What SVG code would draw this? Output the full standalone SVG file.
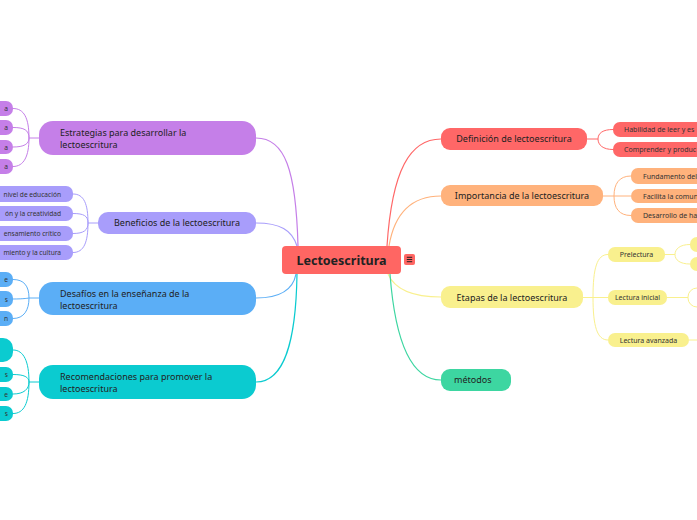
<svg xmlns="http://www.w3.org/2000/svg" width="697" height="520" viewBox="0 0 697 520">
<style>
text{font-family:"Noto Sans","Open Sans","DejaVu Sans",sans-serif;fill:#222}
.main{font-size:9px}
.leaf{font-size:6.6px;fill:#333}
.leafr{font-size:7px;fill:#333}
.c{fill:none;stroke-width:1.2}
.s{fill:none;stroke-width:1}
.red{fill:#FF6767}.peach{fill:#FFB27C}.yel{fill:#F9F08E}.grn{fill:#3DD6A1}
.pur{fill:#C57FE8}.lav{fill:#A89DFB}.blu{fill:#5BAEF6}.tea{fill:#0BCBD0}
</style>
<rect width="697" height="520" fill="#fff"/>
<g id="connectors">
  <path class="c" stroke="#C57FE8" d="M256 138 C285 138 296 170 298 246"/>
  <path class="c" stroke="#A89DFB" d="M256 223 C280 223 292 230 297 246"/>
  <path class="c" stroke="#5BAEF6" d="M256 298 C280 298 293 290 296 274"/>
  <path class="c" stroke="#0BCBD0" d="M256 382 C285 382 296 340 297 274"/>
  <path class="c" stroke="#FF6767" d="M387 246 C392 170 410 139 441 139"/>
  <path class="c" stroke="#FFB27C" d="M389 246 C395 210 415 196 441 196"/>
  <path class="c" stroke="#F9F08E" d="M388 274 C395 290 415 297 441 297"/>
  <path class="c" stroke="#3DD6A1" d="M390 274 C395 340 410 380 441 380"/>
  <g stroke="#C57FE8" class="s">
    <path d="M39 138 H29"/>
    <path d="M29 138 C29 118 24 108.5 13 108.5"/>
    <path d="M29 138 C29 130 24 127.5 13 127.5"/>
    <path d="M29 138 C29 144 24 147 13 147"/>
    <path d="M29 138 C29 156 24 166.5 13 166.5"/>
  </g>
  <g stroke="#A89DFB" class="s">
    <path d="M98 223 H88"/>
    <path d="M88 223 C88 204 84 194 73 194"/>
    <path d="M88 223 C88 216 84 213.5 73 213.5"/>
    <path d="M88 223 C88 230 84 233.5 73 233.5"/>
    <path d="M88 223 C88 242 84 252.5 73 252.5"/>
  </g>
  <g stroke="#5BAEF6" class="s">
    <path d="M39 298 H29"/>
    <path d="M29 298 C29 286 24 279.5 13 279.5"/>
    <path d="M29 298 C29 298 24 299 13 299"/>
    <path d="M29 298 C29 310 24 318.5 13 318.5"/>
  </g>
  <g stroke="#0BCBD0" class="s">
    <path d="M39 382 H29"/>
    <path d="M29 382 C29 362 24 350 13 350"/>
    <path d="M29 382 C29 377 24 374.5 13 374.5"/>
    <path d="M29 382 C29 389 24 394 13 394"/>
    <path d="M29 382 C29 403 24 413.5 13 413.5"/>
  </g>
  <g stroke="#FF6767" class="s">
    <path d="M587 139 H598"/>
    <path d="M598 139 C598 133 603 129.5 613 129.5"/>
    <path d="M598 139 C598 145 603 149.5 613 149.5"/>
  </g>
  <g stroke="#FFB27C" class="s">
    <path d="M603 196 H614"/>
    <path d="M614 196 C614 184 619 176 631 176"/>
    <path d="M614 196 H631"/>
    <path d="M614 196 C614 208 619 215.5 631 215.5"/>
  </g>
  <g stroke="#F9F08E" class="s">
    <path d="M583 297.5 H593"/>
    <path d="M593 297.5 C593 268 597 254.5 608 254.5"/>
    <path d="M593 297.5 H608"/>
    <path d="M593 297.5 C593 326 597 340 608 340"/>
    <path d="M665 254.5 H675"/>
    <path d="M675 254.5 C675 249 680 244.5 690 244.5"/>
    <path d="M675 254.5 C675 260 680 264 690 264"/>
    <path d="M667 297.5 H688"/>
    <path d="M689 340 H697"/>
  </g>
</g>
<g id="center">
  <rect x="282" y="246" width="119" height="28" rx="4" fill="#FF6663"/>
  <text x="341.5" y="264.5" text-anchor="middle" font-size="12.5" font-weight="bold" fill="#111">Lectoescritura</text>
  <g id="center-icon">
    <rect x="404" y="254" width="11" height="11" rx="2" fill="#FF6663"/>
    <path d="M406.8 257.3 H412.2 M406.8 259.5 H412.2 M406.8 261.7 H412.2" stroke="#222" stroke-width="1"/>
  </g>
</g>
<g id="definicion">
  <rect class="red" x="441" y="128" width="146" height="22" rx="9"/>
  <text class="main" x="514" y="142.2" text-anchor="middle">Definición de lectoescritura</text>
</g>
<g id="def-1"><rect class="red" x="613" y="122" width="100" height="15" rx="7"/><text class="leafr" x="624" y="132">Habilidad de leer y es</text></g>
<g id="def-2"><rect class="red" x="613" y="142" width="100" height="15" rx="7"/><text class="leafr" x="624" y="152">Comprender y produc</text></g>
<g id="importancia">
  <rect class="peach" x="441" y="185" width="162" height="21" rx="9"/>
  <text class="main" x="522" y="198.8" text-anchor="middle">Importancia de la lectoescritura</text>
</g>
<g id="imp-1"><rect class="peach" x="631" y="168" width="90" height="16" rx="7"/><text class="leafr" x="643" y="178.5">Fundamento del</text></g>
<g id="imp-2"><rect class="peach" x="631" y="189" width="90" height="14" rx="7"/><text class="leafr" x="643" y="198.5">Facilita la comun</text></g>
<g id="imp-3"><rect class="peach" x="631" y="208" width="90" height="15" rx="7"/><text class="leafr" x="643" y="218">Desarrollo de ha</text></g>
<g id="etapas">
  <rect class="yel" x="441" y="286" width="142" height="22" rx="9"/>
  <text class="main" x="512" y="300.5" text-anchor="middle">Etapas de la lectoescritura</text>
</g>
<g id="prelectura"><rect class="yel" x="608" y="247" width="57" height="15" rx="7"/><text class="leafr" x="636.5" y="257" text-anchor="middle">Prelectura</text></g>
<g id="pre-1"><rect class="yel" x="690" y="237" width="30" height="15" rx="7"/></g>
<g id="pre-2"><rect class="yel" x="690" y="257" width="30" height="14" rx="7"/></g>
<g id="lectura-inicial"><rect class="yel" x="608" y="290" width="59" height="15" rx="7"/><text class="leafr" x="637.5" y="300" text-anchor="middle">Lectura inicial</text></g>
<g id="ini-1"><rect x="688" y="288" width="30" height="19" rx="9" fill="#fff" stroke="#F9F08E" stroke-width="1"/></g>
<g id="lectura-avanzada"><rect class="yel" x="608" y="333" width="81" height="14" rx="7"/><text class="leafr" x="648.5" y="342.5" text-anchor="middle">Lectura avanzada</text></g>
<g id="metodos">
  <rect class="grn" x="441" y="369" width="70" height="22" rx="9"/>
  <text class="main" x="454" y="383.3">métodos</text>
</g>
<g id="estrategias">
  <rect class="pur" x="39" y="121" width="217" height="34" rx="14"/>
  <text class="main" x="60" y="136">Estrategias para desarrollar la</text>
  <text class="main" x="60" y="148">lectoescritura</text>
</g>
<g id="est-1"><rect class="pur" x="-30" y="101" width="43" height="15" rx="7"/><text class="leaf" x="8" y="111" text-anchor="end">a</text></g>
<g id="est-2"><rect class="pur" x="-30" y="120" width="43" height="15" rx="7"/><text class="leaf" x="8" y="130" text-anchor="end">a</text></g>
<g id="est-3"><rect class="pur" x="-30" y="140" width="43" height="14" rx="7"/><text class="leaf" x="8" y="149.5" text-anchor="end">a</text></g>
<g id="est-4"><rect class="pur" x="-30" y="159" width="43" height="15" rx="7"/><text class="leaf" x="8" y="169" text-anchor="end">a</text></g>
<g id="beneficios">
  <rect class="lav" x="98" y="212" width="158" height="22" rx="10"/>
  <text class="main" x="177" y="226.3" text-anchor="middle">Beneficios de la lectoescritura</text>
</g>
<g id="ben-1"><rect class="lav" x="-40" y="186" width="113" height="16" rx="7"/><text class="leaf" x="61" y="196.5" text-anchor="end">nivel de educación</text></g>
<g id="ben-2"><rect class="lav" x="-40" y="206" width="113" height="15" rx="7"/><text class="leaf" x="61" y="216" text-anchor="end">ón y la creatividad</text></g>
<g id="ben-3"><rect class="lav" x="-40" y="226" width="113" height="15" rx="7"/><text class="leaf" x="61" y="236" text-anchor="end">ensamiento crítico</text></g>
<g id="ben-4"><rect class="lav" x="-40" y="245" width="113" height="15" rx="7"/><text class="leaf" x="61" y="255" text-anchor="end">miento y la cultura</text></g>
<g id="desafios">
  <rect class="blu" x="39" y="282" width="217" height="33" rx="14"/>
  <text class="main" x="60" y="297">Desafíos en la enseñanza de la</text>
  <text class="main" x="60" y="309">lectoescritura</text>
</g>
<g id="des-1"><rect class="blu" x="-30" y="272" width="43" height="15" rx="7"/><text class="leaf" x="8" y="282" text-anchor="end">e</text></g>
<g id="des-2"><rect class="blu" x="-30" y="291" width="43" height="16" rx="7"/><text class="leaf" x="8" y="301.5" text-anchor="end">s</text></g>
<g id="des-3"><rect class="blu" x="-30" y="311" width="43" height="15" rx="7"/><text class="leaf" x="8" y="321" text-anchor="end">n</text></g>
<g id="recomendaciones">
  <rect class="tea" x="39" y="365" width="217" height="34" rx="14"/>
  <text class="main" x="60" y="380">Recomendaciones para promover la</text>
  <text class="main" x="60" y="392">lectoescritura</text>
</g>
<g id="rec-1"><rect class="tea" x="-30" y="338" width="43" height="24" rx="10"/></g>
<g id="rec-2"><rect class="tea" x="-30" y="367" width="43" height="15" rx="7"/><text class="leaf" x="8" y="377" text-anchor="end">s</text></g>
<g id="rec-3"><rect class="tea" x="-30" y="387" width="43" height="14" rx="7"/><text class="leaf" x="8" y="396.5" text-anchor="end">e</text></g>
<g id="rec-4"><rect class="tea" x="-30" y="406" width="43" height="15" rx="7"/><text class="leaf" x="8" y="416" text-anchor="end">s</text></g>
</svg>
